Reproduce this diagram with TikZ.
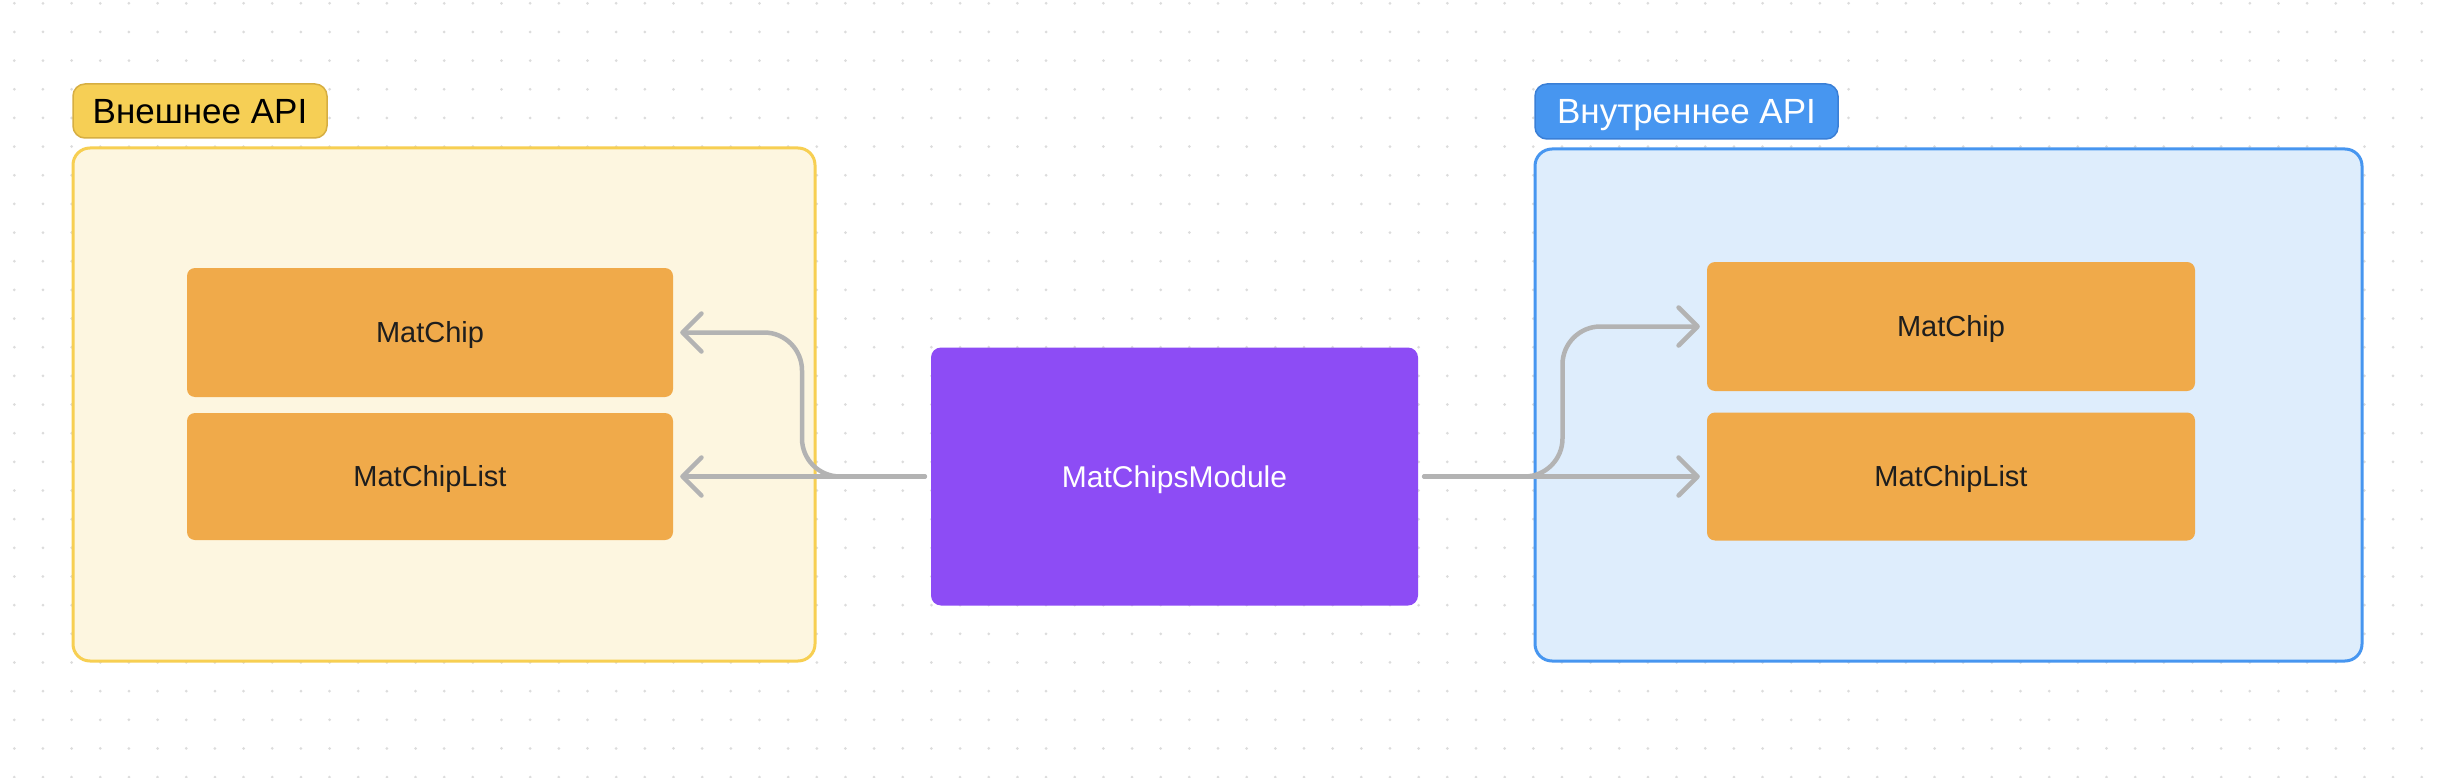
\documentclass[tikz,border=0pt]{standalone}
\usepackage{fontspec}
\setmainfont{Liberation Sans}
\usetikzlibrary{arrows.meta,calc}
\definecolor{dotc}{HTML}{DCDCDC}
\definecolor{yfill}{HTML}{FDF6E0}
\definecolor{yline}{HTML}{F7CF52}
\definecolor{ylab}{HTML}{F6CF55}
\definecolor{ylabline}{HTML}{D6AE42}
\definecolor{bfill}{HTML}{DEEDFC}
\definecolor{bline}{HTML}{4796F0}
\definecolor{blab}{HTML}{4796F0}
\definecolor{blabline}{HTML}{3A7FD6}
\definecolor{orng}{HTML}{F0AA4A}
\definecolor{purp}{HTML}{8D4CF5}
\definecolor{conc}{HTML}{B3B3B3}
\definecolor{txtd}{HTML}{1E1E1E}
\tikzset{
  group/.style={rectangle, rounded corners=17pt, line width=3pt, inner sep=0pt},
  grplabel/.style={rectangle, rounded corners=12pt, line width=1.5pt, inner sep=0pt,
    font=\fontsize{35}{42}\selectfont, text height=25pt, text depth=0pt},
  comp/.style={rectangle, rounded corners=8pt, fill=orng, inner sep=0pt, text=txtd,
    font=\fontsize{29}{35}\selectfont, text height=20.8pt, text depth=0pt},
  modbox/.style={rectangle, rounded corners=10pt, fill=purp, inner sep=0pt, text=white,
    font=\fontsize{30}{36}\selectfont, text height=21.5pt, text depth=0pt},
  conn/.style={draw=conc, line width=4.5pt, line cap=round, line join=round, rounded corners=38pt,
    -{Straight Barb[length=19pt,width=38pt,round]}, shorten <=6pt, shorten >=7pt}
}
\begin{document}
\begin{tikzpicture}[x=1pt,y=-1pt]
\useasboundingbox (0,0) rectangle (2442,778);
\fill[white] (0,0) rectangle (2442,778);
\foreach \i in {0,...,85}{
  \foreach \j in {0,...,27}{
    \fill[dotc] (14.3+28.66*\i, 3.3+28.66*\j) circle (1.5);
  }
}
% groups
\node[group, draw=yline, fill=yfill, minimum width=742pt, minimum height=513pt] (gext) at (444,404.5) {};
\node[grplabel, draw=ylabline, fill=ylab, text=black, minimum width=254pt, minimum height=54pt] (lext) at (200,111) {Внешнее API};
\node[group, draw=bline, fill=bfill, minimum width=827pt, minimum height=512pt] (gint) at (1948.5,405) {};
\node[grplabel, draw=blabline, fill=blab, text=white, minimum width=303pt, minimum height=55pt] (lint) at (1686.5,111.5) {Внутреннее API};
% components
\node[comp, minimum width=486pt, minimum height=129pt] (mc1) at (430,332.5) {MatChip};
\node[comp, minimum width=486pt, minimum height=127pt] (mcl1) at (430,476.5) {MatChipList};
\node[comp, minimum width=488pt, minimum height=129pt] (mc2) at (1951,326.5) {MatChip};
\node[comp, minimum width=488pt, minimum height=128pt] (mcl2) at (1951,476.5) {MatChipList};
\node[modbox, minimum width=487pt, minimum height=258pt] (mod) at (1174.5,476.5) {MatChipsModule};
% connectors
\coordinate (lj) at ($(mc1.east)!0.5!(mod.west)$);
\coordinate (rj) at ($(mc2.west)!0.5!(mod.east)$);
\draw[conn] (mod.west) -- (mcl1.east);
\draw[conn] (mod.west) -- (lj |- mod.west) -- (lj |- mc1.east) -- (mc1.east);
\draw[conn] (mod.east) -- (mcl2.west);
\draw[conn] (mod.east) -- (rj |- mod.east) -- (rj |- mc2.west) -- (mc2.west);
\end{tikzpicture}
\end{document}
